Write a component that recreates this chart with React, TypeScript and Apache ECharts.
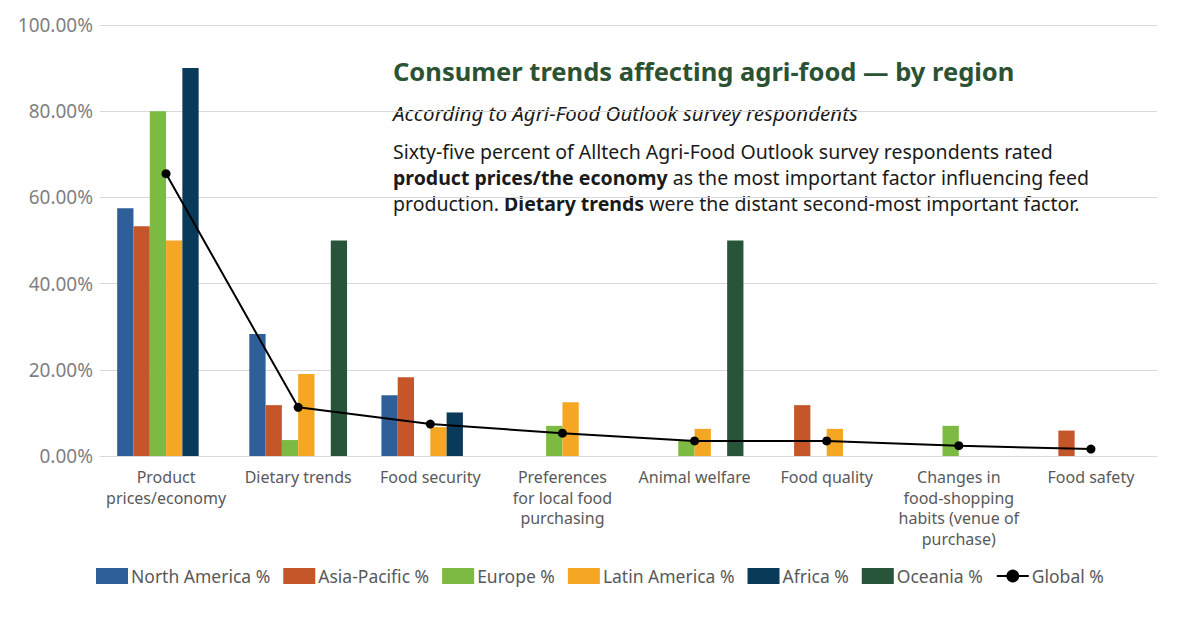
import React, { useEffect, useRef } from "react";
import * as echarts from "echarts";

const categories = [
  "Product\nprices/economy",
  "Dietary trends",
  "Food security",
  "Preferences\nfor local food\npurchasing",
  "Animal welfare",
  "Food quality",
  "Changes in\nfood-shopping\nhabits (venue of\npurchase)",
  "Food safety",
];

const northAmerica = [57.5, 28.3, 14.1, 0, 0, 0, 0, 0];
const asiaPacific = [53.3, 11.8, 18.3, 0, 0, 11.8, 0, 5.9];
const europe = [80, 3.7, 0, 7.0, 3.5, 0, 7.0, 0];
const latinAmerica = [50, 19.0, 6.7, 12.5, 6.3, 6.3, 0, 0];
const africa = [90, 0, 10.1, 0, 0, 0, 0, 0];
const oceania = [0, 50, 0, 0, 50, 0, 0, 0];
const globalPct = [65.5, 11.3, 7.4, 5.3, 3.5, 3.5, 2.4, 1.6];

const yTicks = [0, 20, 40, 60, 80, 100];

const seriesDefs = [
  { name: "North America %", data: northAmerica, color: "#2F5F98" },
  { name: "Asia-Pacific %", data: asiaPacific, color: "#C4562A" },
  { name: "Europe %", data: europe, color: "#7DBA42" },
  { name: "Latin America %", data: latinAmerica, color: "#F5A623" },
  { name: "Africa %", data: africa, color: "#0A3A5A" },
  { name: "Oceania %", data: oceania, color: "#28543A" },
];

const FONT = "'Noto Sans', 'Open Sans', sans-serif";

export default function App() {
  const ref = useRef<HTMLDivElement>(null);
  useEffect(() => {
    if (!ref.current) return;
    const chart = echarts.init(ref.current, undefined, { renderer: "svg" });
    const BS = 19.5;
    const bodyStyle = { fontFamily: FONT, fontSize: BS, fill: "#1a1a1a" };
    const rich = {
      b: { fontFamily: FONT, fontSize: BS, fontWeight: "bold", color: "#1a1a1a" },
      n: { fontFamily: FONT, fontSize: BS, color: "#1a1a1a" },
    };
    chart.setOption({
      animation: false,
      backgroundColor: "#ffffff",
      textStyle: { fontFamily: FONT },
      grid: { left: 100, right: 43, top: 25, bottom: 168, containLabel: false },
      legend: {
        left: 91,
        top: 562,
        itemWidth: 32,
        itemHeight: 16,
        itemGap: 13,
        textStyle: { fontFamily: FONT, fontSize: 17.5, color: "#595959", padding: [0, 0, 0, -2] },
        data: [
          ...seriesDefs.map((s) => ({ name: s.name, icon: "rect" })),
          { name: "Global %" },
        ],
      },
      xAxis: {
        type: "category",
        data: categories,
        axisLine: { lineStyle: { color: "#d9d9d9", width: 1 } },
        axisTick: { show: false },
        axisLabel: {
          interval: 0,
          fontFamily: FONT,
          fontSize: 16,
          color: "#595959",
          lineHeight: 20.5,
          margin: 11,
        },
      },
      yAxis: {
        type: "value",
        min: 0,
        max: 100,
        interval: 20,
        axisLine: { show: false },
        axisTick: { show: false },
        splitLine: { lineStyle: { color: "#d9d9d9", width: 1 } },
        axisLabel: {
          fontFamily: FONT,
          fontSize: 19,
          color: "#7f7f7f",
          margin: 7,
          formatter: (v: number) => (yTicks.includes(v) ? v.toFixed(2) + "%" : ""),
        },
      },
      series: [
        ...seriesDefs.map((s) => ({
          name: s.name,
          type: "bar",
          data: s.data,
          itemStyle: { color: s.color },
          barGap: "0%",
          barCategoryGap: "26%",
        })),
        {
          name: "Global %",
          type: "line",
          data: globalPct,
          z: 10,
          symbol: "circle",
          symbolSize: 9,
          itemStyle: { color: "#000000" },
          lineStyle: { color: "#000000", width: 2 },
        },
      ],
      graphic: [
        {
          type: "text",
          left: 393,
          top: 58,
          style: {
            text: "Consumer trends affecting agri-food — by region",
            fontFamily: FONT,
            fontSize: 25.5,
            fontWeight: "bold",
            fill: "#2C5234",
          },
        },
        {
          type: "text",
          left: 393,
          top: 103,
          style: {
            text: "According to Agri-Food Outlook survey respondents",
            fontFamily: FONT,
            fontSize: 20.5,
            fontStyle: "italic",
            fill: "#1a1a1a",
          },
        },
        {
          type: "text",
          left: 393,
          top: 141,
          style: {
            ...bodyStyle,
            text: "Sixty-five percent of Alltech Agri-Food Outlook survey respondents rated",
          },
        },
        {
          type: "text",
          left: 393,
          top: 167,
          style: {
            ...bodyStyle,
            text: "{b|product prices/the economy}{n| as the most important factor influencing feed}",
            rich,
          },
        },
        {
          type: "text",
          left: 393,
          top: 193,
          style: {
            ...bodyStyle,
            text: "{n|production. }{b|Dietary trends}{n| were the distant second-most important factor.}",
            rich,
          },
        },
      ],
    });
    return () => chart.dispose();
  }, []);
  return (
    <div
      ref={ref}
      style={{ position: "fixed", left: 0, top: 0, width: 1200, height: 624 }}
    />
  );
}
